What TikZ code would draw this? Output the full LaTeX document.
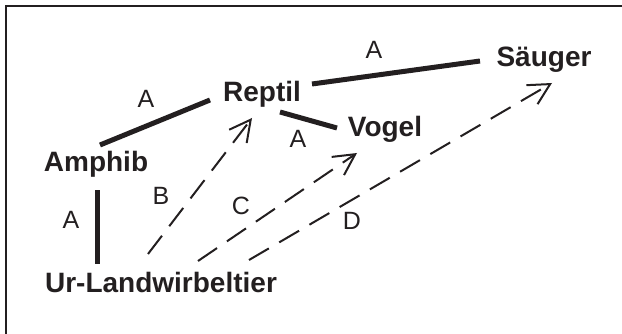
\documentclass[tikz,border=0pt]{standalone}
\usepackage{fontspec}
\setmainfont{Liberation Sans}
\usetikzlibrary{arrows.meta}
\definecolor{ink}{HTML}{231F20}
\tikzset{
  taxon/.style={inner sep=0pt, anchor=base, font=\fontsize{28}{30}\selectfont\bfseries, text=ink},
  lab/.style={inner sep=0pt, anchor=center, font=\fontsize{25}{27}\selectfont, text=ink},
  solidlink/.style={draw=ink, line width=5pt, line cap=butt},
  descent/.style={draw=ink, line width=2pt, dash pattern=on 23pt off 12pt,
    -{Straight Barb[length=21pt, width=22pt, line width=2pt]}},
  frame/.style={draw=ink, line width=1.7pt}
}
\begin{document}
\begin{tikzpicture}[x=1pt, y=-1pt]
\useasboundingbox (0,0) rectangle (622,334);
\draw[frame] (6,340) -- (6,6) -- (630,6);

\node[taxon] (amphib) at (96,172) {Amphib};
\node[taxon] (reptil) at (262,102) {Reptil};
\node[taxon] (vogel) at (385,137) {Vogel};
\node[taxon] (saeuger) at (544,67) {Säuger};
\node[taxon] (ur) at (161,293) {Ur-Landwirbeltier};

\draw[solidlink] ([shift={(4,-27)}]amphib.base) -- ([shift={(-52,-2)}]reptil.base);
\draw[solidlink] ([shift={(18,10)}]reptil.base) -- ([shift={(-48,-9)}]vogel.base);
\draw[solidlink] ([shift={(50,-18)}]reptil.base) -- ([shift={(-64,-6)}]saeuger.base);
\draw[solidlink] ([shift={(-64,-29)}]ur.base) -- ([shift={(1,18)}]amphib.base);

\draw[descent] ([shift={(-13,-39)}]ur.base) -- ([shift={(-10,16)}]reptil.base);
\draw[descent] ([shift={(37,-32)}]ur.base) -- ([shift={(-28,16)}]vogel.base);
\draw[descent] ([shift={(88,-33)}]ur.base) -- ([shift={(8,16)}]saeuger.base);

\node[lab] (la1) at (146,99) {A};
\node[lab] (la2) at (374,50) {A};
\node[lab] (la3) at (298,139) {A};
\node[lab] (la4) at (71,220) {A};
\node[lab] (lb) at (161,196) {B};
\node[lab] (lc) at (241,206) {C};
\node[lab] (ld) at (352,221) {D};
\end{tikzpicture}
\end{document}
